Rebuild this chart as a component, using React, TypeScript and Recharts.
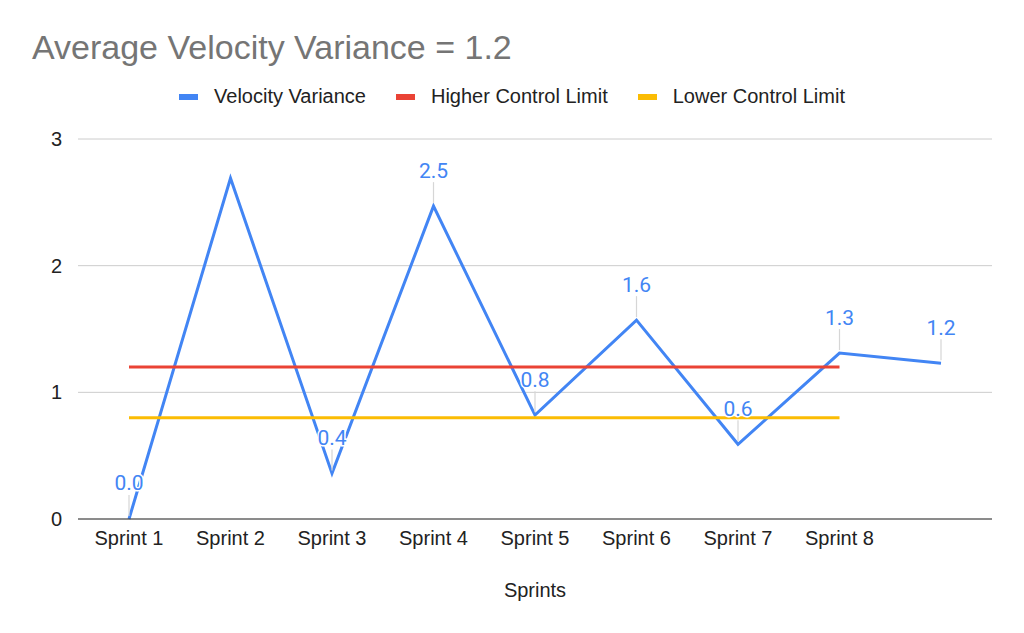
import React from 'react'
import {
  LineChart,
  Line,
  XAxis,
  YAxis,
  CartesianGrid,
  LabelList,
} from 'recharts'

const categories = ['Sprint 1', 'Sprint 2', 'Sprint 3', 'Sprint 4', 'Sprint 5', 'Sprint 6', 'Sprint 7', 'Sprint 8', '']
const velocityVariance = [0, 2.69, 0.36, 2.47, 0.82, 1.57, 0.59, 1.31, 1.23]
const higherLimit = [1.2, 1.2, 1.2, 1.2, 1.2, 1.2, 1.2, 1.2, null]
const lowerLimit = [0.8, 0.8, 0.8, 0.8, 0.8, 0.8, 0.8, 0.8, null]
// Sheets hid the label on the Sprint 2 peak
const showLabel = [true, false, true, true, true, true, true, true, true]
const yTicks = [0, 1, 2, 3]

const SERIES = [
  { key: 'variance', name: 'Velocity Variance', color: '#4285f4' },
  { key: 'higher', name: 'Higher Control Limit', color: '#ea4335' },
  { key: 'lower', name: 'Lower Control Limit', color: '#fbbc04' },
]

const data = categories.map((name, i) => ({
  name,
  variance: velocityVariance[i],
  higher: higherLimit[i],
  lower: lowerLimit[i],
}))

const FONT = '"Liberation Sans", Arial, sans-serif'

function PointLabel(props: any) {
  const { x, y, value, index } = props
  if (!showLabel[index] || value == null) return null
  return (
    <g>
      <line x1={x} x2={x} y1={y - 3} y2={y - 24} stroke="#d6d6d6" strokeWidth={1.2} />
      <text
        x={x}
        y={y - 36}
        dy="0.355em"
        textAnchor="middle"
        fontFamily="Roboto, sans-serif"
        fontSize={21}
        fill="#4285f4"
        stroke="#fff"
        strokeWidth={3}
        paintOrder="stroke"
      >
        {Number(value).toFixed(1)}
      </text>
    </g>
  )
}

export default function App() {
  return (
    <div
      style={{
        position: 'absolute',
        left: 0,
        top: 0,
        width: 1024,
        height: 633,
        background: '#fff',
        fontFamily: FONT,
      }}
    >
      <div
        style={{
          position: 'absolute',
          left: 32,
          top: 30,
          fontSize: 34,
          lineHeight: '34px',
          color: '#757575',
          whiteSpace: 'nowrap',
        }}
      >
        Average Velocity Variance = 1.2
      </div>
      <div
        style={{
          position: 'absolute',
          left: 0,
          top: 85,
          width: 1024,
          display: 'flex',
          justifyContent: 'center',
          alignItems: 'center',
          fontSize: 20,
          lineHeight: '23px',
          color: '#222',
        }}
      >
        {SERIES.map((s, i) => (
          <div
            key={s.key}
            style={{ display: 'flex', alignItems: 'center', marginLeft: i === 0 ? 0 : 30 }}
          >
            <span style={{ width: 19, height: 6, background: s.color, marginRight: 16 }} />
            <span>{s.name}</span>
          </div>
        ))}
      </div>
      <LineChart
        width={1024}
        height={633}
        data={data}
        margin={{ top: 139, right: 32, left: 0, bottom: 0 }}
      >
        <CartesianGrid vertical={false} stroke="#cccccc" />
        <XAxis
          dataKey="name"
          height={114}
          padding={{ left: 51, right: 51 }}
          tickLine={false}
          tickSize={0}
          tickMargin={12}
          axisLine={{ stroke: '#333', strokeWidth: 1.2 }}
          tick={{ fontSize: 20, fill: '#222', fontFamily: FONT }}
          interval={0}
          label={{
            value: 'Sprints',
            position: 'insideBottom',
            offset: 36,
            fontSize: 20,
            fill: '#222',
            fontFamily: FONT,
          }}
        />
        <YAxis
          width={78}
          domain={[0, 3]}
          ticks={yTicks}
          axisLine={false}
          tickLine={false}
          tickSize={0}
          tickMargin={16}
          tick={{ fontSize: 20, fill: '#222', fontFamily: FONT }}
        />
        {SERIES.map((s) => (
          <Line
            key={s.key}
            dataKey={s.key}
            name={s.name}
            stroke={s.color}
            strokeWidth={3}
            dot={false}
            activeDot={false}
            connectNulls={false}
            isAnimationActive={false}
          />
        ))}
        <Line
          dataKey="variance"
          stroke="none"
          dot={false}
          activeDot={false}
          legendType="none"
          isAnimationActive={false}
        >
          <LabelList dataKey="variance" content={PointLabel} />
        </Line>
      </LineChart>
    </div>
  )
}
